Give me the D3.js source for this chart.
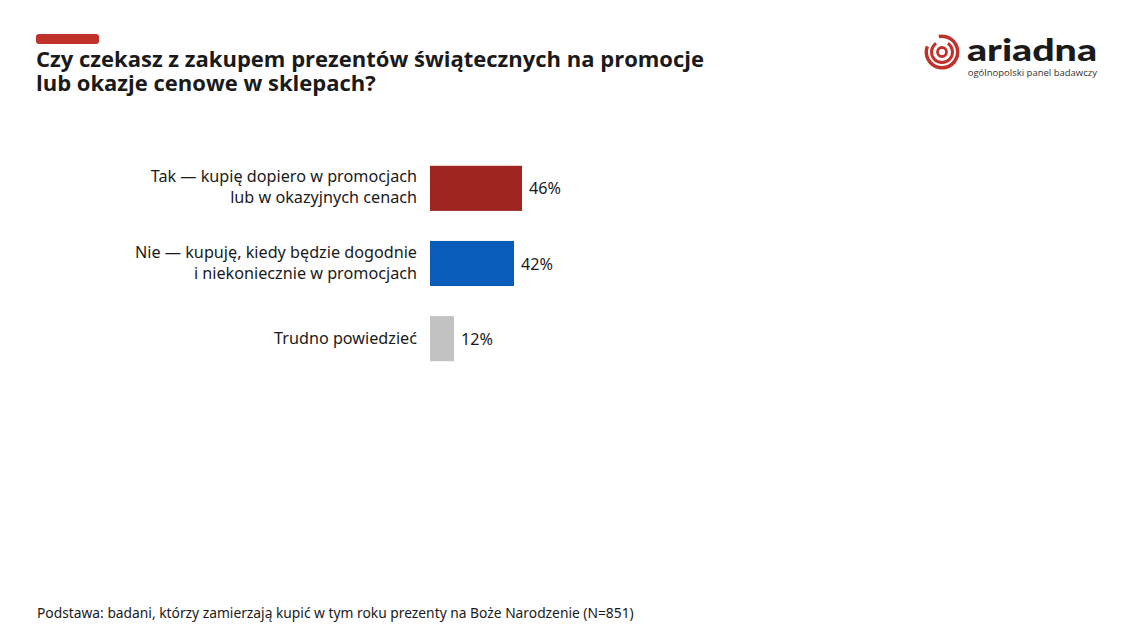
<!DOCTYPE html>
<html><head><meta charset="utf-8">
<script src="https://cdn.jsdelivr.net/npm/d3@7"></script>
<style>body{margin:0;background:#fff}svg{display:block}</style>
</head><body><svg id="c" width="1129" height="634"></svg>
<script>
const categories = [
  ["Tak — kupię dopiero w promocjach", "lub w okazyjnych cenach"],
  ["Nie — kupuję, kiedy będzie dogodnie", "i niekoniecznie w promocjach"],
  ["Trudno powiedzieć"]
];
const values = [46, 42, 12];
const colors = ["#9e2520", "#0a5cb9", "#c2c2c2"];
const title = ["Czy czekasz z zakupem prezentów świątecznych na promocje", "lub okazje cenowe w sklepach?"];
const footnote = "Podstawa: badani, którzy zamierzają kupić w tym roku prezenty na Boże Narodzenie (N=851)";

const svg = d3.select("#c");
// accent bar
svg.append("rect").attr("x",36).attr("y",34).attr("width",63).attr("height",10).attr("rx",3).attr("fill","#c0312b");
// title
svg.selectAll("text.title").data(title).join("text").attr("class","title")
  .attr("x",36).attr("y",(d,i)=>67+i*24).attr("font-family","Open Sans, sans-serif").attr("font-weight",700)
  .attr("font-size",22).attr("fill","#1a1a1a").text(d=>d);

// logo
const lg = svg.append("g");
const cx=942, cy=52;
lg.append("circle").attr("cx",cx).attr("cy",cy).attr("r",4.5).attr("fill","none").attr("stroke","#c0312b").attr("stroke-width",2.8);
const arc = d3.arc();
lg.append("path").attr("transform",`translate(${cx},${cy})`).attr("fill","#c0312b")
  .attr("d",arc({innerRadius:9,outerRadius:12,startAngle:0.6,endAngle:2*Math.PI-0.6}));
lg.append("path").attr("transform",`translate(${cx},${cy})`).attr("fill","#c0312b")
  .attr("d",arc({innerRadius:14,outerRadius:17.5,startAngle:-0.2,endAngle:2*Math.PI-1.2}));
lg.append("text").attr("x",967).attr("y",61).attr("font-family","Lato, sans-serif").attr("font-weight",900)
  .attr("font-size",31).attr("fill","#1a1a1a").attr("textLength",130).attr("lengthAdjust","spacingAndGlyphs").text("ariadna");
lg.append("text").attr("x",1097).attr("y",76).attr("text-anchor","end").attr("font-family","Open Sans, sans-serif")
  .attr("font-size",9.5).attr("fill","#333").text("ogólnopolski panel badawczy");

// chart
const x = d3.scaleLinear().domain([0,100]).range([430,630]);
const y = d3.scaleBand().domain(d3.range(values.length)).range([147,380]).paddingInner(0.4).paddingOuter(0.25);

const g = svg.append("g");
g.selectAll("rect.bar").data(values).join("rect").attr("class","bar")
  .attr("x",x(0)).attr("y",(d,i)=>y(i)).attr("width",d=>x(d)-x(0)).attr("height",y.bandwidth())
  .attr("fill",(d,i)=>colors[i]);
g.selectAll("text.val").data(values).join("text").attr("class","val")
  .attr("x",d=>x(d)+7).attr("y",(d,i)=>y(i)+y.bandwidth()/2+6)
  .attr("font-family","Noto Sans, sans-serif").attr("font-size",16.2).attr("fill","#1a1a1a").text(d=>d+"%");
const lines = [];
categories.forEach((c,i)=>c.forEach((t,j)=>lines.push({t, i, j, n:c.length})));
g.selectAll("text.lab").data(lines).join("text").attr("class","lab")
  .attr("text-anchor","end").attr("font-family","Noto Sans, sans-serif").attr("font-size",16.2).attr("fill","#1a1a1a")
  .attr("x",417)
  .attr("y",d=>y(d.i)+y.bandwidth()/2 + (d.n===1 ? 5 : -6 + d.j*21)).text(d=>d.t);

svg.append("text").attr("x",37).attr("y",618).attr("font-family","Noto Sans, sans-serif").attr("font-size",13.8)
  .attr("fill","#1a1a1a").text(footnote);
</script></body></html>
